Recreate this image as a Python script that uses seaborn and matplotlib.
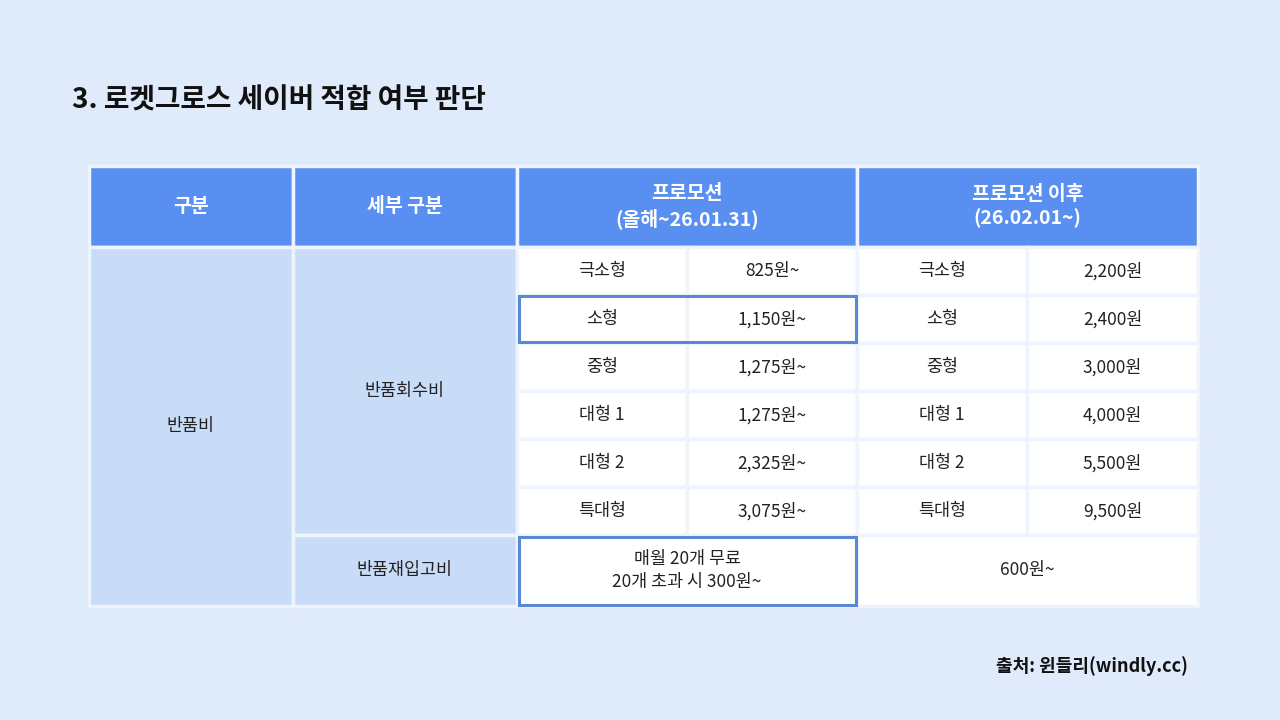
import matplotlib
matplotlib.use("Agg")
import matplotlib.pyplot as plt
from matplotlib.patches import Rectangle
import seaborn as sns

sns.set_theme(style="white")
plt.rcParams['font.family'] = ['Noto Sans CJK KR', 'DejaVu Sans']

# data
title = "3. 로켓그로스 세이버 적합 여부 판단"
headers = ["구분", "세부 구분", "프로모션\n(올해~26.01.31)", "프로모션 이후\n(26.02.01~)"]
sizes = ["극소형", "소형", "중형", "대형 1", "대형 2", "특대형"]
promo_prices = ["825원~", "1,150원~", "1,275원~", "1,275원~", "2,325원~", "3,075원~"]
after_prices = ["2,200원", "2,400원", "3,000원", "4,000원", "5,500원", "9,500원"]
category = "반품비"
sub_categories = ["반품회수비", "반품재입고비"]
restock_promo = "매월 20개 무료\n20개 초과 시 300원~"
restock_after = "600원~"
source = "출처: 윈들리(windly.cc)"

BG = "#DFEBFB"
HEAD = "#5A8FF2"
SIDE = "#C8DCF8"
BORDER = "#5A87D6"

fig = plt.figure(figsize=(12.8, 7.2), dpi=100, facecolor=BG)
ax = fig.add_axes([0, 0, 1, 1])
ax.set_xlim(0, 1280)
ax.set_ylim(720, 0)
ax.axis("off")
ax.set_facecolor(BG)

cols = [89, 293, 517, 687, 857, 1027, 1198]
rows = [166, 247, 295, 343, 391, 439, 487, 535, 606]

def cell(x0, x1, y0, y1, fc, text="", color="#222222", bold=False, size=12.5):
    ax.add_patch(Rectangle((x0, y0), x1 - x0, y1 - y0, facecolor=fc,
                           edgecolor="#EEF4FD", linewidth=2.5))
    if text:
        ax.text((x0 + x1) / 2, (y0 + y1) / 2, text, ha="center", va="center",
                color=color, fontsize=size, fontweight="bold" if bold else "normal",
                linespacing=1.3)

# header
hx = [(0, 1), (1, 2), (2, 4), (4, 6)]
for (a, b), h in zip(hx, headers):
    cell(cols[a], cols[b], rows[0], rows[1], HEAD, h, color="white", bold=True, size=14)

# side cells
cell(cols[0], cols[1], rows[1], rows[8], SIDE, category)
cell(cols[1], cols[2], rows[1], rows[7], SIDE, sub_categories[0])
cell(cols[1], cols[2], rows[7], rows[8], SIDE, sub_categories[1])

for i, (s, p, a) in enumerate(zip(sizes, promo_prices, after_prices)):
    y0, y1 = rows[i + 1], rows[i + 2]
    cell(cols[2], cols[3], y0, y1, "white", s)
    cell(cols[3], cols[4], y0, y1, "white", p)
    cell(cols[4], cols[5], y0, y1, "white", s)
    cell(cols[5], cols[6], y0, y1, "white", a)

cell(cols[2], cols[4], rows[7], rows[8], "white", restock_promo)
cell(cols[4], cols[6], rows[7], rows[8], "white", restock_after)

# highlight boxes
ax.add_patch(Rectangle((cols[2] + 2, rows[2] + 1), cols[4] - cols[2] - 3, rows[3] - rows[2] - 2,
                       fill=False, edgecolor=BORDER, linewidth=2.2))
ax.add_patch(Rectangle((cols[2] + 2, rows[7] + 2), cols[4] - cols[2] - 3, rows[8] - rows[7] - 3,
                       fill=False, edgecolor=BORDER, linewidth=2.2))

ax.text(72, 101, title, ha="left", va="center", fontsize=20, fontweight="bold", color="#111111")
ax.text(1188, 666, source, ha="right", va="center", fontsize=13, fontweight="bold", color="#111111")

fig.savefig("out.png", dpi=100, facecolor=BG)
